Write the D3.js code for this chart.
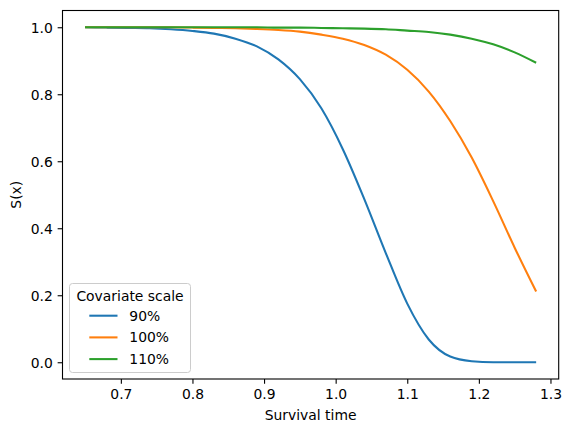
<!DOCTYPE html>
<html>
<head>
<meta charset="utf-8">
<script src="https://cdn.jsdelivr.net/npm/d3@7"></script>
<style>
  body { margin: 0; background: #fff; }
  text { font-family: "DejaVu Sans", sans-serif; fill: #000; }
</style>
</head>
<body>
<div id="chart"></div>
<script>
// survival time grid
const times = [0.65, 0.68, 0.71, 0.74, 0.77, 0.80, 0.83, 0.86, 0.89, 0.92, 0.95,
               0.98, 1.01, 1.04, 1.07, 1.10, 1.13, 1.16, 1.19, 1.22, 1.25, 1.28];

// S(x) for each covariate scale
const s90  = [1.000, 0.999, 0.998, 0.997, 0.994, 0.989, 0.981, 0.966, 0.943, 0.904, 0.845,
              0.758, 0.636, 0.487, 0.326, 0.175, 0.068, 0.017, 0.003, 0.000, 0.000, 0.000];
const s100 = [1.000, 1.000, 1.000, 1.000, 1.000, 0.999, 0.998, 0.997, 0.995, 0.992, 0.987,
              0.978, 0.966, 0.947, 0.918, 0.873, 0.808, 0.720, 0.611, 0.481, 0.342, 0.211];
const s110 = [1.000, 1.000, 1.000, 1.000, 1.000, 1.000, 1.000, 1.000, 1.000, 0.999, 0.999,
              0.998, 0.997, 0.996, 0.994, 0.990, 0.986, 0.978, 0.966, 0.949, 0.925, 0.894];

const seriesNames = ['90%', '100%', '110%'];
const xTicks = [0.7, 0.8, 0.9, 1.0, 1.1, 1.2, 1.3];
const yTicks = [0.0, 0.2, 0.4, 0.6, 0.8, 1.0];

const width = 570;
const height = 433;
const margin = { top: 10.5, right: 11.3, bottom: 54, left: 62.5 };
const innerW = width - margin.left - margin.right;
const innerH = height - margin.top - margin.bottom;

const colors = ['#1f77b4', '#ff7f0e', '#2ca02c'];

const svg = d3.select('#chart')
    .append('svg')
    .attr('width', width)
    .attr('height', height);

const g = svg.append('g')
    .attr('transform', `translate(${margin.left},${margin.top})`);

// matplotlib style 5% padding around the data
const xPad = (1.28 - 0.65) * 0.05;
const x = d3.scaleLinear()
    .domain([0.65 - xPad, 1.28 + xPad])
    .range([0, innerW]);

const y = d3.scaleLinear()
    .domain([-0.05, 1.05])
    .range([innerH, 0]);

const series = [s90, s100, s110].map((vals, i) => ({
    name: seriesNames[i],
    values: times.map((t, j) => ({ t: t, s: vals[j] }))
}));

const line = d3.line()
    .x(d => x(d.t))
    .y(d => y(d.s))
    .curve(d3.curveMonotoneX);

g.selectAll('path.curve')
    .data(series)
    .enter().append('path')
    .attr('class', 'curve')
    .attr('d', d => line(d.values))
    .attr('fill', 'none')
    .attr('stroke', (d, i) => colors[i])
    .attr('stroke-width', 2.08);

// axes
const xAxis = d3.axisBottom(x)
    .tickValues(xTicks)
    .tickFormat(d3.format('.1f'))
    .tickSize(4.86)
    .tickPadding(4.5);

const yAxis = d3.axisLeft(y)
    .tickValues(yTicks)
    .tickFormat(d3.format('.1f'))
    .tickSize(4.86)
    .tickPadding(4.86);

const gx = g.append('g')
    .attr('transform', `translate(0,${innerH})`)
    .call(xAxis);
const gy = g.append('g').call(yAxis);

[gx, gy].forEach(a => {
    a.select('.domain').remove();
    a.selectAll('line').attr('stroke', '#000').attr('stroke-width', 1.1);
    a.selectAll('text').style('font-size', '13.9px').attr('fill', '#000');
});
gy.selectAll('text').attr('dy', '0.36em');
gx.selectAll('text').attr('dy', '0.76em');

// frame
g.append('rect')
    .attr('width', innerW)
    .attr('height', innerH)
    .attr('fill', 'none')
    .attr('stroke', '#000')
    .attr('stroke-width', 1.1);

// axis labels
svg.append('text')
    .attr('x', margin.left + innerW / 2)
    .attr('y', 420)
    .attr('text-anchor', 'middle')
    .style('font-size', '13.9px')
    .text('Survival time');

svg.append('text')
    .attr('transform', `translate(21,${margin.top + innerH / 2}) rotate(-90)`)
    .attr('text-anchor', 'middle')
    .style('font-size', '13.9px')
    .text('S(x)');

// legend
const legend = svg.append('g');

legend.append('rect')
    .attr('x', 69.5)
    .attr('y', 283.5)
    .attr('width', 121)
    .attr('height', 89)
    .attr('rx', 3)
    .attr('fill', '#fff')
    .attr('fill-opacity', 0.8)
    .attr('stroke', '#cccccc')
    .attr('stroke-width', 1);

legend.append('text')
    .attr('x', 130)
    .attr('y', 300.5)
    .attr('text-anchor', 'middle')
    .style('font-size', '13.9px')
    .text('Covariate scale');

const items = legend.selectAll('g.item')
    .data(seriesNames)
    .enter().append('g')
    .attr('class', 'item')
    .attr('transform', (d, i) => `translate(0,${315.7 + i * 21.7})`);

items.append('line')
    .attr('x1', 89.3)
    .attr('x2', 117.5)
    .attr('stroke', (d, i) => colors[i])
    .attr('stroke-width', 2.08);

items.append('text')
    .attr('x', 129.3)
    .attr('dy', '0.36em')
    .style('font-size', '13.9px')
    .text(d => d);
</script>
</body>
</html>
